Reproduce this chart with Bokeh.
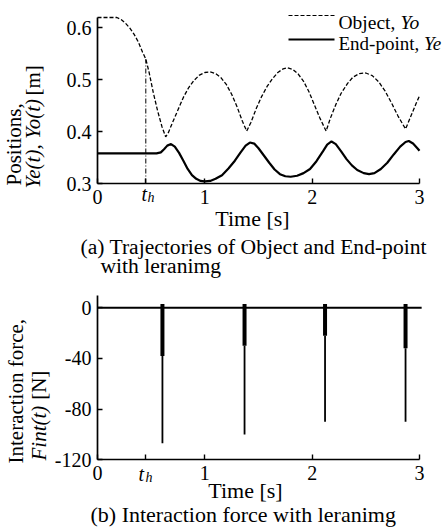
import math
from bokeh.plotting import figure
from bokeh.layouts import column
from bokeh.models import Range1d, FixedTicker, Label, Arrow
from bokeh.embed import file_html
from bokeh.resources import INLINE

SERIF = "Liberation Serif"

# ---------------- data ----------------
T_OBJ = [0.00, 0.10, 0.18, 0.22, 0.26, 0.30, 0.34, 0.38, 0.42, 0.45, 0.48, 0.52, 0.56, 0.60,
         0.635, 0.66, 0.70, 0.75, 0.80, 0.85, 0.90, 0.95, 1.00, 1.05, 1.10, 1.15, 1.20, 1.25,
         1.30, 1.35, 1.39, 1.43, 1.48, 1.53, 1.58, 1.63, 1.68, 1.73, 1.77, 1.82, 1.87, 1.92,
         1.97, 2.02, 2.07, 2.13, 2.17, 2.22, 2.27, 2.33, 2.38, 2.44, 2.50, 2.56, 2.62, 2.68,
         2.74, 2.80, 2.87, 2.92, 2.97, 3.00]
Y_OBJ = [0.620, 0.620, 0.620, 0.616, 0.609, 0.600, 0.588, 0.573, 0.553, 0.540, 0.515, 0.475, 0.440, 0.410,
         0.390, 0.398, 0.418, 0.442, 0.466, 0.485, 0.499, 0.509, 0.514, 0.515, 0.512, 0.504, 0.491, 0.472,
         0.448, 0.420, 0.401, 0.418, 0.445, 0.468, 0.487, 0.502, 0.514, 0.521, 0.523, 0.520, 0.511, 0.497,
         0.477, 0.452, 0.427, 0.401, 0.426, 0.452, 0.474, 0.493, 0.505, 0.512, 0.513, 0.508, 0.496, 0.478,
         0.455, 0.430, 0.405, 0.430, 0.455, 0.469]

T_END = [0.00, 0.30, 0.55, 0.59, 0.62, 0.65, 0.685, 0.72, 0.76, 0.80, 0.84, 0.88, 0.92, 0.96, 1.00,
         1.05, 1.10, 1.16, 1.22, 1.28, 1.33, 1.38, 1.42, 1.46, 1.50, 1.55, 1.60, 1.65, 1.70, 1.75,
         1.80, 1.86, 1.92, 1.98, 2.04, 2.10, 2.14, 2.18, 2.22, 2.27, 2.32, 2.37, 2.42, 2.48, 2.53,
         2.58, 2.64, 2.70, 2.76, 2.82, 2.87, 2.90, 2.94, 2.98, 3.00]
Y_END = [0.358, 0.358, 0.358, 0.360, 0.366, 0.373, 0.376, 0.371, 0.359, 0.344, 0.328, 0.316, 0.309, 0.305, 0.304,
         0.305, 0.309, 0.316, 0.329, 0.344, 0.359, 0.373, 0.379, 0.377, 0.368, 0.354, 0.340, 0.327, 0.318, 0.314,
         0.313, 0.315, 0.320, 0.328, 0.343, 0.362, 0.375, 0.381, 0.376, 0.362, 0.347, 0.335, 0.326, 0.320, 0.318,
         0.320, 0.328, 0.340, 0.356, 0.371, 0.380, 0.382, 0.377, 0.368, 0.363]

TH = 0.45          # t_h
YO_AT_TH = 0.540   # object position at t_h

FORCE_BASE_T = [0.0, 3.02]
FORCE_BASE = [0.0, 0.0]
SPIKE_T = [0.605, 1.37, 2.12, 2.87]
SPIKE_TOP = [3, 3, 3, 3]
SPIKE_BAND = [-38, -30, -22, -32]
SPIKE_MIN = [-107, -100, -90, -90]

X_TICKS = [0, TH, 1, 2, 3]
X_LABELS = ["0", "", "1", "2", "3"]
Y1_TICKS = [0.3, 0.4, 0.5, 0.6]
Y1_LABELS = ["0.3", "0.4", "0.5", "0.6"]
Y2_TICKS = [-120, -80, -40, 0]
Y2_LABELS = ["-120", "-80", "-40", "0"]
X_LIM = (0, 3)
Y1_LIM = (0.3, 0.62)
Y2_LIM = (-120, 10)

# ---------------- pixel layout ----------------
W = 446
TOP_H = 285
BOT_H = 243
X0_PX, X3_PX = 97, 419            # x of t=0 and t=3
Y1_LO_PX, Y1_HI_PX = 183, 17      # y of 0.3 and 0.62 (top figure)
Y2_0_PX, Y2_LO_PX = 22.3, 174.3   # y of 0 and -120 (bottom figure, local)

sx = (X3_PX - X0_PX) / (X_LIM[1] - X_LIM[0])
XR = (X_LIM[0] - X0_PX / sx, X_LIM[0] + (W - X0_PX) / sx)
sy1 = (Y1_LO_PX - Y1_HI_PX) / (Y1_LIM[1] - Y1_LIM[0])
YR1 = (Y1_LIM[0] - (TOP_H - Y1_LO_PX) / sy1, Y1_LIM[0] + Y1_LO_PX / sy1)
sy2 = (Y2_LO_PX - Y2_0_PX) / 120.0
YR2 = (-(BOT_H - Y2_0_PX) / sy2, Y2_0_PX / sy2)


def style(p, xfix, yfix, ylim, yticks, ylabels):
    p.outline_line_color = None
    p.grid.visible = False
    p.background_fill_color = "white"
    p.border_fill_color = "white"
    p.xaxis.ticker = FixedTicker(ticks=X_TICKS)
    p.xaxis.major_label_overrides = {k: v for k, v in zip(X_TICKS, X_LABELS)}
    p.yaxis.ticker = FixedTicker(ticks=yticks)
    p.yaxis.major_label_overrides = {k: v for k, v in zip(yticks, ylabels)}
    p.xaxis.fixed_location = xfix
    p.yaxis.fixed_location = yfix
    p.xaxis.bounds = X_LIM
    p.yaxis.bounds = ylim
    for ax in (p.xaxis[0], p.yaxis[0]):
        ax.axis_line_width = 1.7
        ax.axis_line_color = "black"
        ax.major_tick_in = 5
        ax.major_tick_out = 0
        ax.major_tick_line_width = 1.4
        ax.major_tick_line_color = "black"
        ax.minor_tick_line_color = None
        ax.major_label_text_font = SERIF
        ax.major_label_text_font_size = "20px"
        ax.major_label_text_color = "black"
        ax.major_label_standoff = 6


def lab(p, x, y, text, dx, dy, size, italic=False, angle=0.0, align="left", baseline="alphabetic"):
    p.add_layout(Label(x=x, y=y, x_offset=dx, y_offset=dy, text=text, angle=angle,
                       text_font=SERIF, text_font_size=f"{size}px",
                       text_font_style="italic" if italic else "normal",
                       text_align=align, text_baseline=baseline, text_color="black"))


def make_fig(h, yr):
    return figure(width=W, height=h, x_range=Range1d(*XR), y_range=Range1d(*yr),
                  output_backend="svg", toolbar_location=None,
                  min_border=0, min_border_left=0, min_border_right=0,
                  min_border_top=0, min_border_bottom=0)


# ---------------- top: trajectories ----------------
p1 = make_fig(TOP_H, YR1)
style(p1, Y1_LIM[0], X_LIM[0], Y1_LIM, Y1_TICKS, Y1_LABELS)

p1.segment(x0=[TH], y0=[Y1_LIM[0]], x1=[TH], y1=[YO_AT_TH], line_color="black",
           line_width=1, line_dash="5 2 1 2")
p1.line(T_OBJ, Y_OBJ, line_color="black", line_width=1.3, line_dash="4 2")
p1.line(T_END, Y_END, line_color="black", line_width=2.2)


def top_x(px):
    return X_LIM[0] + (px - X0_PX) / sx


def top_y(py):
    return Y1_LIM[0] + (Y1_LO_PX - py) / sy1


# legend (drawn by hand: mixed roman / italic text)
p1.add_layout(Arrow(end=None, x_start=top_x(288), y_start=top_y(15), x_end=top_x(334), y_end=top_y(15),
                    line_color="black", line_width=1.2, line_dash="4 2"))
p1.add_layout(Arrow(end=None, x_start=top_x(288), y_start=top_y(39), x_end=top_x(334), y_end=top_y(39),
                    line_color="black", line_width=1.8))
lab(p1, 0, 0.3, "Object, ", 241, 161.5, 19.5)
lab(p1, 0, 0.3, "Yo", 303, 161.5, 19.5, italic=True)
lab(p1, 0, 0.3, "End-point, ", 241, 139.7, 19)
lab(p1, 0, 0.3, "Ye", 326.5, 139.7, 19, italic=True)

# t_h tick label
lab(p1, 0, 0.3, "t", 44, -10, 20, italic=True)
lab(p1, 0, 0.3, "h", 50, -14, 14, italic=True)

# axis titles & caption
lab(p1, 0, 0.3, "Time [s]", 155, -35, 22, align="center", baseline="middle")
lab(p1, 0, 0.3, "(a) Trajectories of Object and End-point", -17, -63, 21.6, baseline="middle")
lab(p1, 0, 0.3, "with leranimg", 3, -82, 21.6, baseline="middle")
lab(p1, 0, 0.3, "Positions,", -84, -2, 21, angle=math.pi / 2)
lab(p1, 0, 0.3, "Ye(t), Yo(t)", -65, -5, 21, italic=True, angle=math.pi / 2)
lab(p1, 0, 0.3, "[m]", -65, 88, 21, angle=math.pi / 2)

# ---------------- bottom: interaction force ----------------
p2 = make_fig(BOT_H, YR2)
style(p2, Y2_LIM[0], X_LIM[0], Y2_LIM, Y2_TICKS, Y2_LABELS)

p2.line(FORCE_BASE_T, FORCE_BASE, line_color="black", line_width=2)
p2.segment(x0=SPIKE_T, y0=SPIKE_TOP, x1=SPIKE_T, y1=SPIKE_BAND, line_color="black", line_width=4)
p2.segment(x0=SPIKE_T, y0=SPIKE_BAND, x1=SPIKE_T, y1=SPIKE_MIN, line_color="black", line_width=1.8)

lab(p2, 0, -120, "t", 41, -13.7, 20, italic=True)
lab(p2, 0, -120, "h", 48, -17.7, 14, italic=True)
lab(p2, 0, -120, "Time [s]", 148, -30.7, 22, align="center", baseline="middle")
lab(p2, 0, -120, "(b) Interaction force with leranimg", -7, -54.5, 22, baseline="middle")
lab(p2, 0, -120, "Interaction force,", -82, -3.7, 21, angle=math.pi / 2)
lab(p2, 0, -120, "Fint(t)", -59, -0.7, 21, italic=True, angle=math.pi / 2)
lab(p2, 0, -120, "[N]", -59, 60, 21, angle=math.pi / 2)

layout = column(p1, p2)
open("out.html", "w").write(file_html(layout, INLINE))
